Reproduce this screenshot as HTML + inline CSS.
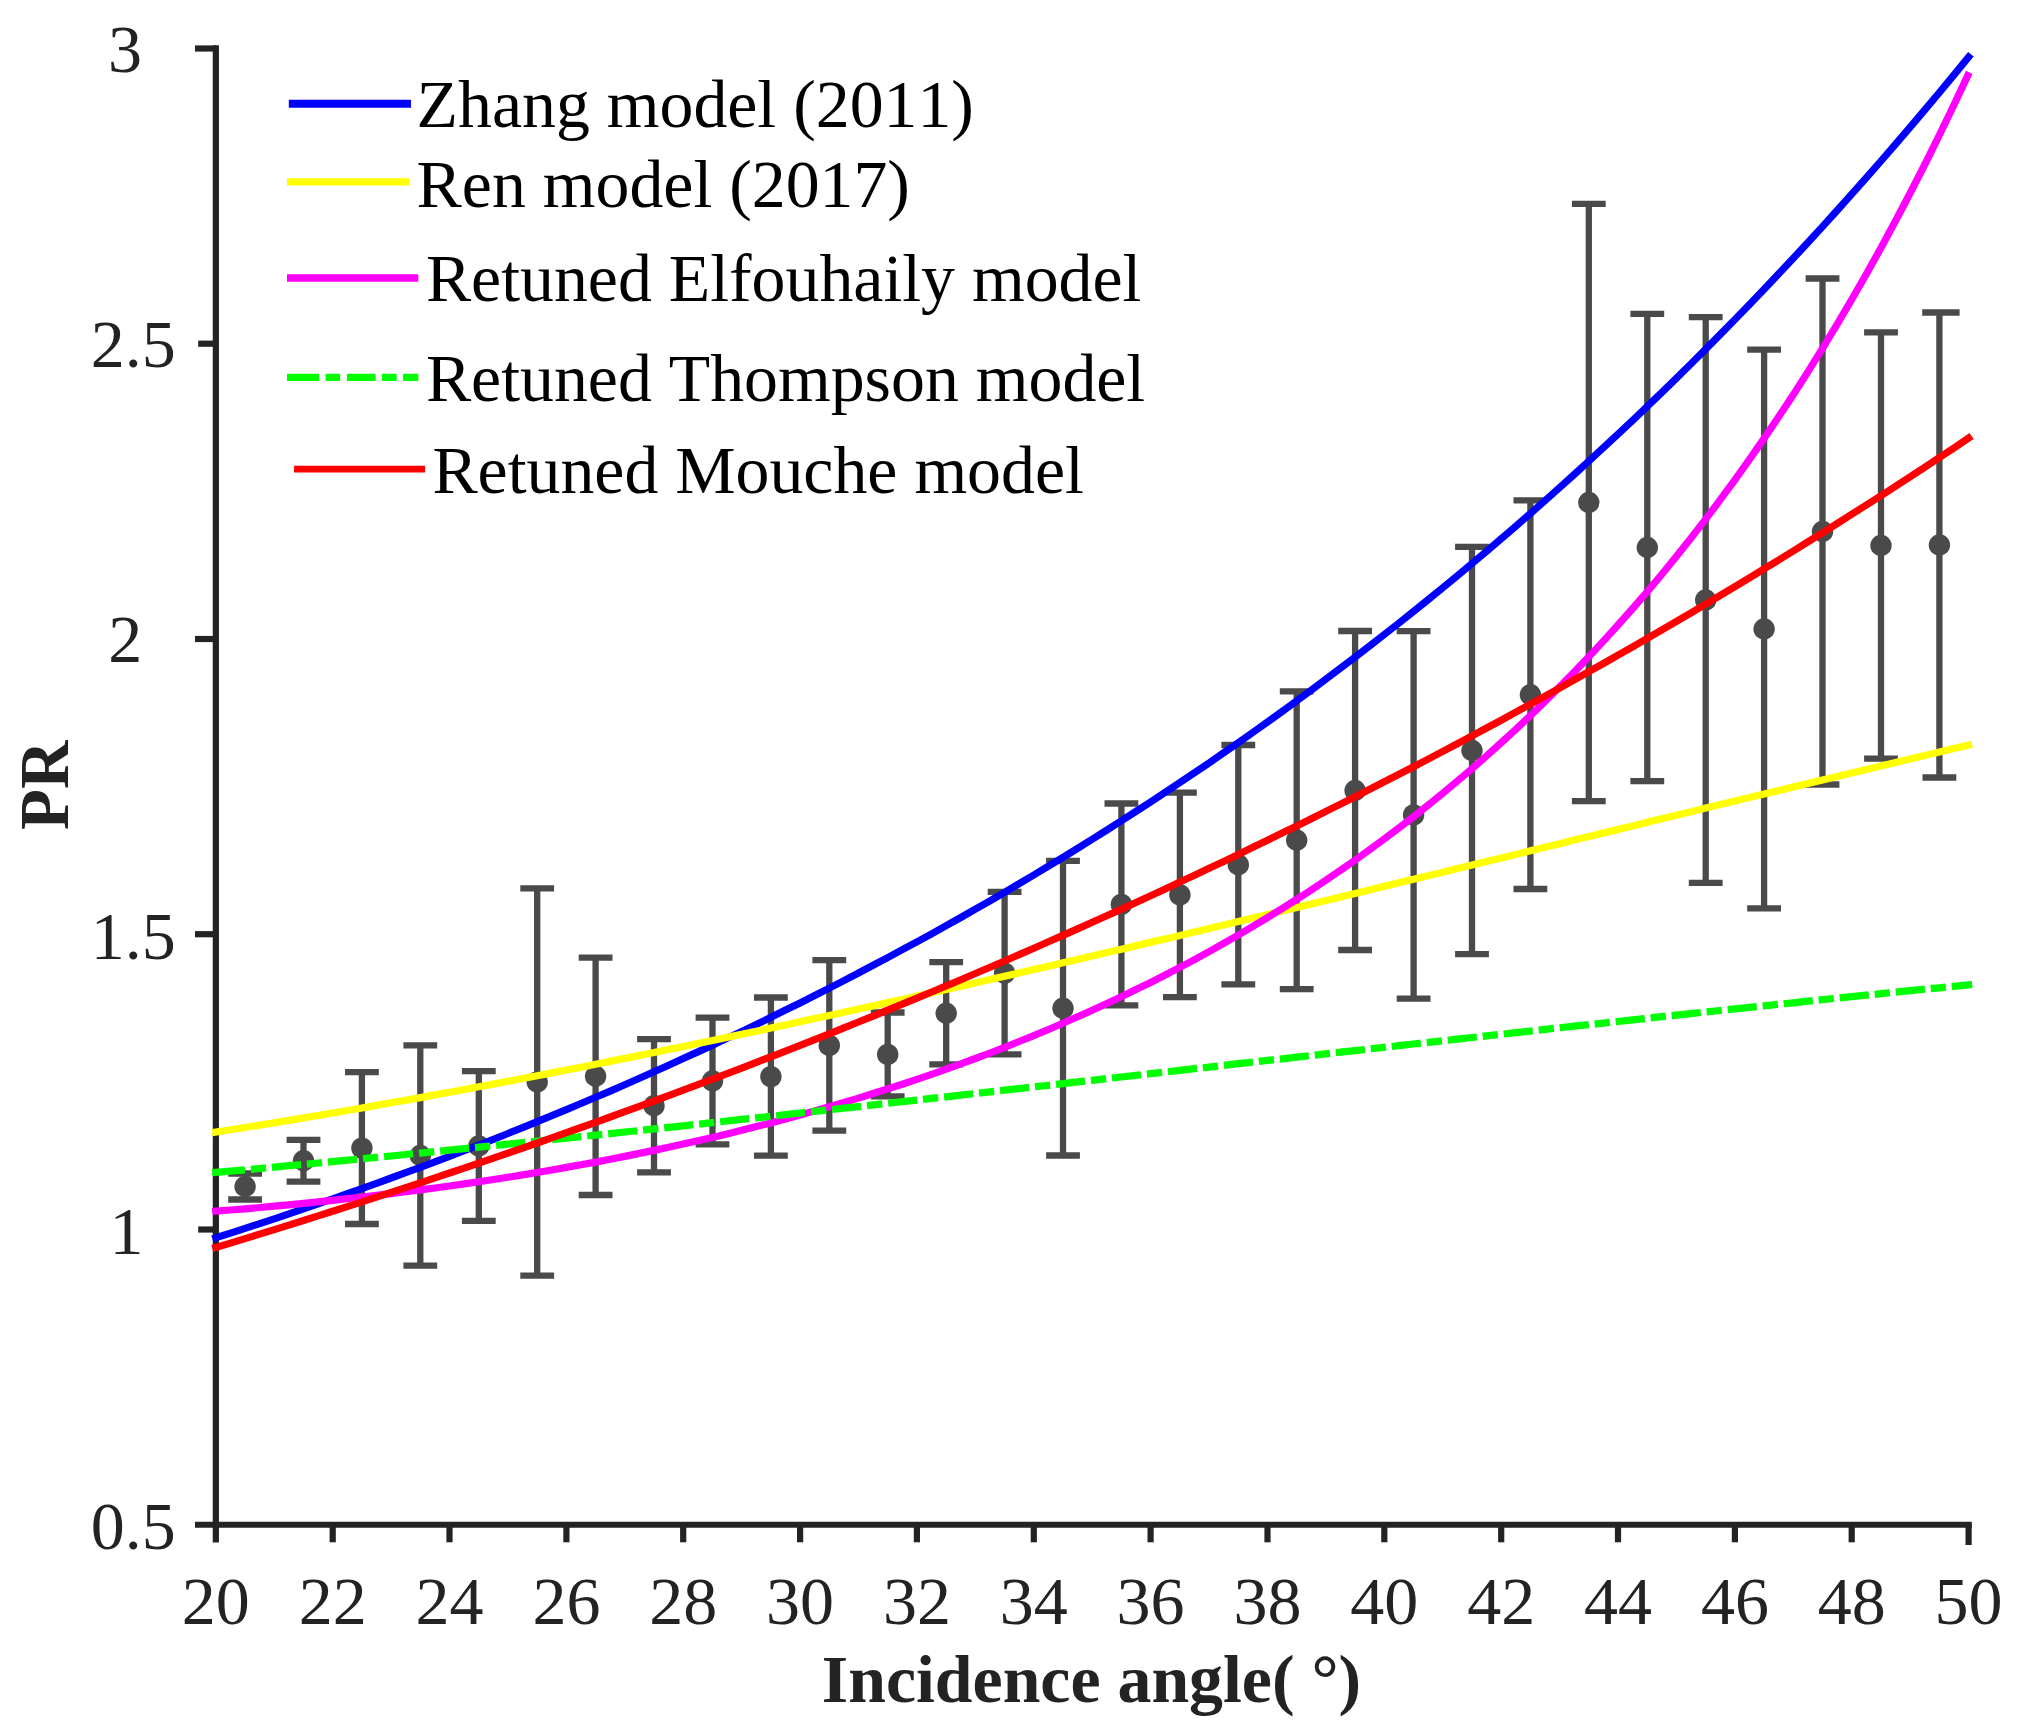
<!DOCTYPE html><html><head><meta charset="utf-8"><title>PR vs incidence angle</title><style>html,body{margin:0;padding:0;background:#fff}svg{display:block}text{font-family:"Liberation Serif",serif;font-kerning:none;font-variant-ligatures:none}</style></head><body>
<svg width="2024" height="1730" viewBox="0 0 2024 1730">
<rect width="2024" height="1730" fill="#fff"/>
<g stroke="#4a4a4a" stroke-width="6.3" fill="#4a4a4a">
<path d="M245.1 1173.5V1199.5M228.2 1173.5h33.8M228.2 1199.5h33.8" fill="none"/><circle cx="245.1" cy="1186.5" r="10.7" stroke="none"/>
<path d="M303.5 1139.9V1181.7M286.6 1139.9h33.8M286.6 1181.7h33.8" fill="none"/><circle cx="303.5" cy="1160.8" r="10.7" stroke="none"/>
<path d="M361.9 1072.2V1224.0M345.0 1072.2h33.8M345.0 1224.0h33.8" fill="none"/><circle cx="361.9" cy="1148.1" r="10.7" stroke="none"/>
<path d="M420.3 1045.3V1265.7M403.4 1045.3h33.8M403.4 1265.7h33.8" fill="none"/><circle cx="420.3" cy="1155.5" r="10.7" stroke="none"/>
<path d="M478.8 1071.2V1220.8M461.9 1071.2h33.8M461.9 1220.8h33.8" fill="none"/><circle cx="478.8" cy="1146.0" r="10.7" stroke="none"/>
<path d="M537.2 888.4V1275.6M520.3 888.4h33.8M520.3 1275.6h33.8" fill="none"/><circle cx="537.2" cy="1082.0" r="10.7" stroke="none"/>
<path d="M595.6 957.6V1195.0M578.7 957.6h33.8M578.7 1195.0h33.8" fill="none"/><circle cx="595.6" cy="1076.3" r="10.7" stroke="none"/>
<path d="M654.0 1039.2V1172.4M637.1 1039.2h33.8M637.1 1172.4h33.8" fill="none"/><circle cx="654.0" cy="1105.8" r="10.7" stroke="none"/>
<path d="M712.5 1017.7V1144.3M695.6 1017.7h33.8M695.6 1144.3h33.8" fill="none"/><circle cx="712.5" cy="1081.0" r="10.7" stroke="none"/>
<path d="M770.9 997.5V1155.7M754.0 997.5h33.8M754.0 1155.7h33.8" fill="none"/><circle cx="770.9" cy="1076.6" r="10.7" stroke="none"/>
<path d="M829.3 960.1V1130.7M812.4 960.1h33.8M812.4 1130.7h33.8" fill="none"/><circle cx="829.3" cy="1045.4" r="10.7" stroke="none"/>
<path d="M887.7 1012.5V1096.3M870.8 1012.5h33.8M870.8 1096.3h33.8" fill="none"/><circle cx="887.7" cy="1054.4" r="10.7" stroke="none"/>
<path d="M946.2 962.1V1064.3M929.3 962.1h33.8M929.3 1064.3h33.8" fill="none"/><circle cx="946.2" cy="1013.2" r="10.7" stroke="none"/>
<path d="M1004.6 891.9V1054.3M987.7 891.9h33.8M987.7 1054.3h33.8" fill="none"/><circle cx="1004.6" cy="973.1" r="10.7" stroke="none"/>
<path d="M1063.0 860.9V1155.5M1046.1 860.9h33.8M1046.1 1155.5h33.8" fill="none"/><circle cx="1063.0" cy="1008.2" r="10.7" stroke="none"/>
<path d="M1121.4 803.5V1005.3M1104.5 803.5h33.8M1104.5 1005.3h33.8" fill="none"/><circle cx="1121.4" cy="904.4" r="10.7" stroke="none"/>
<path d="M1179.9 792.7V997.1M1163.0 792.7h33.8M1163.0 997.1h33.8" fill="none"/><circle cx="1179.9" cy="894.9" r="10.7" stroke="none"/>
<path d="M1238.3 745.0V984.4M1221.4 745.0h33.8M1221.4 984.4h33.8" fill="none"/><circle cx="1238.3" cy="864.7" r="10.7" stroke="none"/>
<path d="M1296.7 691.4V989.2M1279.8 691.4h33.8M1279.8 989.2h33.8" fill="none"/><circle cx="1296.7" cy="840.3" r="10.7" stroke="none"/>
<path d="M1355.1 631.0V950.0M1338.2 631.0h33.8M1338.2 950.0h33.8" fill="none"/><circle cx="1355.1" cy="790.5" r="10.7" stroke="none"/>
<path d="M1413.6 631.2V998.6M1396.7 631.2h33.8M1396.7 998.6h33.8" fill="none"/><circle cx="1413.6" cy="814.9" r="10.7" stroke="none"/>
<path d="M1472.0 546.9V954.1M1455.1 546.9h33.8M1455.1 954.1h33.8" fill="none"/><circle cx="1472.0" cy="750.5" r="10.7" stroke="none"/>
<path d="M1530.4 500.4V889.0M1513.5 500.4h33.8M1513.5 889.0h33.8" fill="none"/><circle cx="1530.4" cy="694.7" r="10.7" stroke="none"/>
<path d="M1588.8 203.8V801.2M1571.9 203.8h33.8M1571.9 801.2h33.8" fill="none"/><circle cx="1588.8" cy="502.5" r="10.7" stroke="none"/>
<path d="M1647.3 313.9V781.1M1630.4 313.9h33.8M1630.4 781.1h33.8" fill="none"/><circle cx="1647.3" cy="547.5" r="10.7" stroke="none"/>
<path d="M1705.7 317.1V882.9M1688.8 317.1h33.8M1688.8 882.9h33.8" fill="none"/><circle cx="1705.7" cy="600.0" r="10.7" stroke="none"/>
<path d="M1764.1 349.7V908.3M1747.2 349.7h33.8M1747.2 908.3h33.8" fill="none"/><circle cx="1764.1" cy="629.0" r="10.7" stroke="none"/>
<path d="M1822.5 278.5V784.5M1805.6 278.5h33.8M1805.6 784.5h33.8" fill="none"/><circle cx="1822.5" cy="531.5" r="10.7" stroke="none"/>
<path d="M1881.0 332.3V758.7M1864.1 332.3h33.8M1864.1 758.7h33.8" fill="none"/><circle cx="1881.0" cy="545.5" r="10.7" stroke="none"/>
<path d="M1939.4 312.5V777.5M1922.2 312.5h37.4M1922.5 777.5h33.8" fill="none"/><circle cx="1939.4" cy="545.0" r="10.7" stroke="none"/>
</g>
<g stroke="#232323" stroke-width="6.2" fill="none">
<path d="M215.85 45.35V1542.4"/>
<path d="M195 1524.75H1971.8"/>
<path d="M195 48.5H215.85"/>
<path d="M198.2 343.7H215.85"/>
<path d="M195 639.0H215.85"/>
<path d="M195 934.2H215.85"/>
<path d="M198.2 1229.5H215.85"/>
<path d="M332.7 1524.75V1542.3"/>
<path d="M449.5 1524.75V1542.3"/>
<path d="M566.4 1524.75V1542.3"/>
<path d="M683.2 1524.75V1542.3"/>
<path d="M800.1 1524.75V1542.3"/>
<path d="M916.9 1524.75V1542.3"/>
<path d="M1033.8 1524.75V1542.3"/>
<path d="M1150.6 1524.75V1542.3"/>
<path d="M1267.5 1524.75V1542.3"/>
<path d="M1384.3 1524.75V1542.3"/>
<path d="M1501.2 1524.75V1542.3"/>
<path d="M1618.0 1524.75V1542.3"/>
<path d="M1734.9 1524.75V1542.3"/>
<path d="M1851.7 1524.75V1542.3"/>
<path d="M1968.6 1524.75V1545"/>
</g>
<path d="M215.8 1237.8 L230.5 1233.1 L245.1 1228.4 L259.7 1223.6 L274.3 1218.8 L288.9 1213.9 L303.5 1208.9 L318.1 1203.9 L332.7 1198.9 L347.3 1193.7 L361.9 1188.6 L376.5 1183.3 L391.1 1178.0 L405.7 1172.7 L420.3 1167.3 L434.9 1161.8 L449.5 1156.3 L464.2 1150.7 L478.8 1145.0 L493.4 1139.3 L508.0 1133.5 L522.6 1127.6 L537.2 1121.7 L551.8 1115.7 L566.4 1109.6 L581.0 1103.5 L595.6 1097.3 L610.2 1091.1 L624.8 1084.7 L639.4 1078.3 L654.0 1071.8 L668.6 1065.3 L683.2 1058.6 L697.9 1051.9 L712.5 1045.2 L727.1 1038.3 L741.7 1031.4 L756.3 1024.4 L770.9 1017.3 L785.5 1010.1 L800.1 1002.9 L814.7 995.5 L829.3 988.1 L843.9 980.6 L858.5 973.0 L873.1 965.3 L887.7 957.6 L902.3 949.7 L916.9 941.8 L931.6 933.8 L946.2 925.7 L960.8 917.5 L975.4 909.2 L990.0 900.8 L1004.6 892.3 L1019.2 883.7 L1033.8 875.0 L1048.4 866.2 L1063.0 857.4 L1077.6 848.4 L1092.2 839.3 L1106.8 830.1 L1121.4 820.8 L1136.0 811.4 L1150.6 801.9 L1165.3 792.3 L1179.9 782.6 L1194.5 772.8 L1209.1 762.9 L1223.7 752.8 L1238.3 742.7 L1252.9 732.4 L1267.5 722.0 L1282.1 711.5 L1296.7 700.9 L1311.3 690.1 L1325.9 679.2 L1340.5 668.2 L1355.1 657.1 L1369.7 645.9 L1384.3 634.5 L1399.0 623.0 L1413.6 611.4 L1428.2 599.6 L1442.8 587.7 L1457.4 575.7 L1472.0 563.6 L1486.6 551.3 L1501.2 538.8 L1515.8 526.2 L1530.4 513.5 L1545.0 500.6 L1559.6 487.6 L1574.2 474.5 L1588.8 461.2 L1603.4 447.7 L1618.0 434.1 L1632.7 420.3 L1647.3 406.4 L1661.9 392.3 L1676.5 378.1 L1691.1 363.7 L1705.7 349.1 L1720.3 334.4 L1734.9 319.5 L1749.5 304.5 L1764.1 289.2 L1778.7 273.8 L1793.3 258.3 L1807.9 242.5 L1822.5 226.6 L1837.1 210.5 L1851.7 194.2 L1866.4 177.7 L1881.0 161.0 L1895.6 144.2 L1910.2 127.1 L1924.8 109.9 L1939.4 92.5 L1954.0 74.9 L1968.6 57.0" stroke="#0000ff" stroke-width="7.2" fill="none" stroke-linecap="square" stroke-linejoin="round"/>
<path d="M215.8 1132.1 L230.5 1129.8 L245.1 1127.5 L259.7 1125.1 L274.3 1122.8 L288.9 1120.4 L303.5 1117.9 L318.1 1115.5 L332.7 1113.0 L347.3 1110.5 L361.9 1108.0 L376.5 1105.4 L391.1 1102.8 L405.7 1100.2 L420.3 1097.6 L434.9 1094.9 L449.5 1092.2 L464.2 1089.5 L478.8 1086.8 L493.4 1084.1 L508.0 1081.3 L522.6 1078.5 L537.2 1075.7 L551.8 1072.9 L566.4 1070.0 L581.0 1067.2 L595.6 1064.3 L610.2 1061.4 L624.8 1058.4 L639.4 1055.5 L654.0 1052.5 L668.6 1049.5 L683.2 1046.5 L697.9 1043.5 L712.5 1040.4 L727.1 1037.4 L741.7 1034.3 L756.3 1031.2 L770.9 1028.1 L785.5 1025.0 L800.1 1021.8 L814.7 1018.6 L829.3 1015.5 L843.9 1012.3 L858.5 1009.1 L873.1 1005.9 L887.7 1002.6 L902.3 999.4 L916.9 996.1 L931.6 992.8 L946.2 989.5 L960.8 986.2 L975.4 982.9 L990.0 979.6 L1004.6 976.3 L1019.2 972.9 L1033.8 969.6 L1048.4 966.2 L1063.0 962.8 L1077.6 959.4 L1092.2 956.0 L1106.8 952.6 L1121.4 949.2 L1136.0 945.7 L1150.6 942.3 L1165.3 938.9 L1179.9 935.4 L1194.5 931.9 L1209.1 928.5 L1223.7 925.0 L1238.3 921.5 L1252.9 918.0 L1267.5 914.5 L1282.1 911.0 L1296.7 907.5 L1311.3 904.0 L1325.9 900.5 L1340.5 896.9 L1355.1 893.4 L1369.7 889.9 L1384.3 886.3 L1399.0 882.8 L1413.6 879.3 L1428.2 875.7 L1442.8 872.2 L1457.4 868.6 L1472.0 865.1 L1486.6 861.5 L1501.2 857.9 L1515.8 854.4 L1530.4 850.8 L1545.0 847.3 L1559.6 843.7 L1574.2 840.1 L1588.8 836.6 L1603.4 833.0 L1618.0 829.5 L1632.7 825.9 L1647.3 822.3 L1661.9 818.8 L1676.5 815.2 L1691.1 811.7 L1705.7 808.1 L1720.3 804.6 L1734.9 801.1 L1749.5 797.5 L1764.1 794.0 L1778.7 790.5 L1793.3 786.9 L1807.9 783.4 L1822.5 779.9 L1837.1 776.4 L1851.7 772.9 L1866.4 769.4 L1881.0 765.9 L1895.6 762.4 L1910.2 758.9 L1924.8 755.5 L1939.4 752.0 L1954.0 748.6 L1968.6 745.1" stroke="#ffff00" stroke-width="7.2" fill="none" stroke-linecap="square" stroke-linejoin="round"/>
<path d="M215.8 1211.2 L230.5 1210.0 L245.1 1208.8 L259.7 1207.5 L274.3 1206.2 L288.9 1204.8 L303.5 1203.4 L318.1 1201.9 L332.7 1200.3 L347.3 1198.7 L361.9 1197.1 L376.5 1195.4 L391.1 1193.6 L405.7 1191.8 L420.3 1189.9 L434.9 1188.0 L449.5 1186.0 L464.2 1183.9 L478.8 1181.7 L493.4 1179.5 L508.0 1177.3 L522.6 1174.9 L537.2 1172.5 L551.8 1170.0 L566.4 1167.4 L581.0 1164.8 L595.6 1162.1 L610.2 1159.3 L624.8 1156.4 L639.4 1153.4 L654.0 1150.4 L668.6 1147.3 L683.2 1144.1 L697.9 1140.8 L712.5 1137.4 L727.1 1133.9 L741.7 1130.3 L756.3 1126.6 L770.9 1122.9 L785.5 1119.0 L800.1 1115.0 L814.7 1110.9 L829.3 1106.8 L843.9 1102.5 L858.5 1098.1 L873.1 1093.5 L887.7 1088.9 L902.3 1084.2 L916.9 1079.3 L931.6 1074.3 L946.2 1069.2 L960.8 1063.9 L975.4 1058.5 L990.0 1053.0 L1004.6 1047.3 L1019.2 1041.5 L1033.8 1035.6 L1048.4 1029.5 L1063.0 1023.2 L1077.6 1016.8 L1092.2 1010.3 L1106.8 1003.6 L1121.4 996.7 L1136.0 989.6 L1150.6 982.4 L1165.3 975.0 L1179.9 967.4 L1194.5 959.6 L1209.1 951.6 L1223.7 943.4 L1238.3 935.0 L1252.9 926.4 L1267.5 917.6 L1282.1 908.6 L1296.7 899.4 L1311.3 889.9 L1325.9 880.2 L1340.5 870.3 L1355.1 860.1 L1369.7 849.6 L1384.3 838.9 L1399.0 827.9 L1413.6 816.6 L1428.2 805.1 L1442.8 793.2 L1457.4 781.1 L1472.0 768.7 L1486.6 755.9 L1501.2 742.8 L1515.8 729.4 L1530.4 715.6 L1545.0 701.4 L1559.6 686.9 L1574.2 672.1 L1588.8 656.8 L1603.4 641.1 L1618.0 625.0 L1632.7 608.5 L1647.3 591.6 L1661.9 574.2 L1676.5 556.3 L1691.1 537.9 L1705.7 519.1 L1720.3 499.7 L1734.9 479.8 L1749.5 459.4 L1764.1 438.4 L1778.7 416.8 L1793.3 394.7 L1807.9 371.9 L1822.5 348.4 L1837.1 324.3 L1851.7 299.5 L1866.4 274.0 L1881.0 247.8 L1895.6 220.8 L1910.2 193.0 L1924.8 164.5 L1939.4 135.0 L1954.0 104.7 L1967.7 75.6" stroke="#ff00ff" stroke-width="7.2" fill="none" stroke-linecap="square" stroke-linejoin="round"/>
<path d="M215.8 1172.4 L230.5 1171.1 L245.1 1169.8 L259.7 1168.5 L274.3 1167.1 L288.9 1165.7 L303.5 1164.4 L318.1 1163.0 L332.7 1161.6 L347.3 1160.2 L361.9 1158.8 L376.5 1157.4 L391.1 1156.0 L405.7 1154.5 L420.3 1153.1 L434.9 1151.6 L449.5 1150.2 L464.2 1148.7 L478.8 1147.2 L493.4 1145.7 L508.0 1144.2 L522.6 1142.7 L537.2 1141.2 L551.8 1139.7 L566.4 1138.2 L581.0 1136.7 L595.6 1135.1 L610.2 1133.6 L624.8 1132.0 L639.4 1130.5 L654.0 1128.9 L668.6 1127.4 L683.2 1125.8 L697.9 1124.2 L712.5 1122.6 L727.1 1121.0 L741.7 1119.4 L756.3 1117.9 L770.9 1116.3 L785.5 1114.7 L800.1 1113.0 L814.7 1111.4 L829.3 1109.8 L843.9 1108.2 L858.5 1106.6 L873.1 1104.9 L887.7 1103.3 L902.3 1101.7 L916.9 1100.1 L931.6 1098.4 L946.2 1096.8 L960.8 1095.1 L975.4 1093.5 L990.0 1091.8 L1004.6 1090.2 L1019.2 1088.6 L1033.8 1086.9 L1048.4 1085.3 L1063.0 1083.6 L1077.6 1081.9 L1092.2 1080.3 L1106.8 1078.6 L1121.4 1077.0 L1136.0 1075.3 L1150.6 1073.7 L1165.3 1072.0 L1179.9 1070.4 L1194.5 1068.7 L1209.1 1067.1 L1223.7 1065.4 L1238.3 1063.7 L1252.9 1062.1 L1267.5 1060.4 L1282.1 1058.8 L1296.7 1057.1 L1311.3 1055.5 L1325.9 1053.9 L1340.5 1052.2 L1355.1 1050.6 L1369.7 1048.9 L1384.3 1047.3 L1399.0 1045.7 L1413.6 1044.0 L1428.2 1042.4 L1442.8 1040.8 L1457.4 1039.1 L1472.0 1037.5 L1486.6 1035.9 L1501.2 1034.3 L1515.8 1032.7 L1530.4 1031.1 L1545.0 1029.4 L1559.6 1027.8 L1574.2 1026.2 L1588.8 1024.7 L1603.4 1023.1 L1618.0 1021.5 L1632.7 1019.9 L1647.3 1018.3 L1661.9 1016.7 L1676.5 1015.2 L1691.1 1013.6 L1705.7 1012.0 L1720.3 1010.5 L1734.9 1008.9 L1749.5 1007.4 L1764.1 1005.8 L1778.7 1004.3 L1793.3 1002.8 L1807.9 1001.2 L1822.5 999.7 L1837.1 998.2 L1851.7 996.7 L1866.4 995.2 L1881.0 993.7 L1895.6 992.2 L1910.2 990.7 L1924.8 989.2 L1939.4 987.8 L1954.0 986.3 L1968.6 984.8" stroke="#00ff00" stroke-width="7.2" fill="none" stroke-linecap="butt" stroke-linejoin="round" stroke-dasharray="29.3 5.85 15.32 5.85"/>
<path d="M212.2 1172.7L216.3 1172.4M1968.1 984.9L1972.2 984.4" stroke="#00ff00" stroke-width="7.2" fill="none"/>
<path d="M215.8 1247.5 L230.5 1243.1 L245.1 1238.6 L259.7 1234.1 L274.3 1229.6 L288.9 1225.1 L303.5 1220.5 L318.1 1215.9 L332.7 1211.2 L347.3 1206.6 L361.9 1201.9 L376.5 1197.1 L391.1 1192.4 L405.7 1187.6 L420.3 1182.8 L434.9 1177.9 L449.5 1173.0 L464.2 1168.1 L478.8 1163.1 L493.4 1158.1 L508.0 1153.1 L522.6 1148.1 L537.2 1143.0 L551.8 1137.9 L566.4 1132.7 L581.0 1127.5 L595.6 1122.3 L610.2 1117.0 L624.8 1111.7 L639.4 1106.4 L654.0 1101.0 L668.6 1095.6 L683.2 1090.2 L697.9 1084.7 L712.5 1079.2 L727.1 1073.7 L741.7 1068.1 L756.3 1062.4 L770.9 1056.8 L785.5 1051.1 L800.1 1045.4 L814.7 1039.6 L829.3 1033.8 L843.9 1027.9 L858.5 1022.0 L873.1 1016.1 L887.7 1010.1 L902.3 1004.1 L916.9 998.1 L931.6 992.0 L946.2 985.9 L960.8 979.7 L975.4 973.5 L990.0 967.2 L1004.6 961.0 L1019.2 954.6 L1033.8 948.2 L1048.4 941.8 L1063.0 935.4 L1077.6 928.9 L1092.2 922.3 L1106.8 915.7 L1121.4 909.1 L1136.0 902.4 L1150.6 895.7 L1165.3 888.9 L1179.9 882.1 L1194.5 875.2 L1209.1 868.3 L1223.7 861.4 L1238.3 854.4 L1252.9 847.3 L1267.5 840.2 L1282.1 833.1 L1296.7 825.9 L1311.3 818.7 L1325.9 811.4 L1340.5 804.1 L1355.1 796.7 L1369.7 789.3 L1384.3 781.8 L1399.0 774.3 L1413.6 766.7 L1428.2 759.1 L1442.8 751.4 L1457.4 743.7 L1472.0 735.9 L1486.6 728.0 L1501.2 720.2 L1515.8 712.2 L1530.4 704.2 L1545.0 696.2 L1559.6 688.1 L1574.2 679.9 L1588.8 671.7 L1603.4 663.5 L1618.0 655.2 L1632.7 646.8 L1647.3 638.4 L1661.9 629.9 L1676.5 621.3 L1691.1 612.8 L1705.7 604.1 L1720.3 595.4 L1734.9 586.6 L1749.5 577.8 L1764.1 568.9 L1778.7 560.0 L1793.3 551.0 L1807.9 541.9 L1822.5 532.8 L1837.1 523.6 L1851.7 514.3 L1866.4 505.0 L1881.0 495.7 L1895.6 486.2 L1910.2 476.7 L1924.8 467.2 L1939.4 457.6 L1954.0 447.9 L1968.6 438.1" stroke="#ff0000" stroke-width="7.2" fill="none" stroke-linecap="square" stroke-linejoin="round"/>
<g font-size="68" fill="#232323" text-anchor="middle">
<text x="215.8" y="1624.2">20</text>
<text x="332.7" y="1624.2">22</text>
<text x="449.5" y="1624.2">24</text>
<text x="566.4" y="1624.2">26</text>
<text x="683.2" y="1624.2">28</text>
<text x="800.1" y="1624.2">30</text>
<text x="916.9" y="1624.2">32</text>
<text x="1033.8" y="1624.2">34</text>
<text x="1150.6" y="1624.2">36</text>
<text x="1267.5" y="1624.2">38</text>
<text x="1384.3" y="1624.2">40</text>
<text x="1501.2" y="1624.2">42</text>
<text x="1618.0" y="1624.2">44</text>
<text x="1734.9" y="1624.2">46</text>
<text x="1851.7" y="1624.2">48</text>
<text x="1968.6" y="1624.2">50</text>
<text x="125" y="72.2">3</text>
<text x="133.3" y="367.2">2.5</text>
<text x="125.3" y="662.0">2</text>
<text x="133.3" y="958.8">1.5</text>
<text x="126.5" y="1253.6">1</text>
<text x="133.3" y="1548.7">0.5</text>
</g>
<text x="1091.5" y="1702.3" font-size="67.8" font-weight="bold" fill="#232323" text-anchor="middle">Incidence angle( °)</text>
<text transform="translate(68.1 785.4) rotate(-90)" font-size="70.5" font-weight="bold" fill="#232323" text-anchor="middle" textLength="89.4" lengthAdjust="spacingAndGlyphs">PR</text>
<path d="M288.8 103.7H411.0" stroke="#0000ff" stroke-width="7.9" fill="none"/>
<text x="416.6" y="127.3" font-size="67.8" fill="#000">Zhang model (2011)</text>
<path d="M287 181.9H409.0" stroke="#ffff00" stroke-width="7.3" fill="none"/>
<text x="416.6" y="206.9" font-size="67.8" fill="#000">Ren model (2017)</text>
<path d="M287 277.9H418.3" stroke="#ff00ff" stroke-width="7.5" fill="none"/>
<text x="425.9" y="301.4" font-size="67.8" fill="#000">Retuned Elfouhaily model</text>
<path d="M287 377.3H319.1M325.6 377.3H340.2M346.9 377.3H375.6M381.9 377.3H396.7M403.1 377.3H418.3" stroke="#00ff00" stroke-width="7.2" fill="none"/>
<text x="425.9" y="400.7" font-size="67.8" fill="#000">Retuned Thompson model</text>
<path d="M294 469.1H425.1" stroke="#ff0000" stroke-width="6.9" fill="none"/>
<text x="432.4" y="492.5" font-size="67.8" fill="#000">Retuned Mouche model</text>
</svg></body></html>
